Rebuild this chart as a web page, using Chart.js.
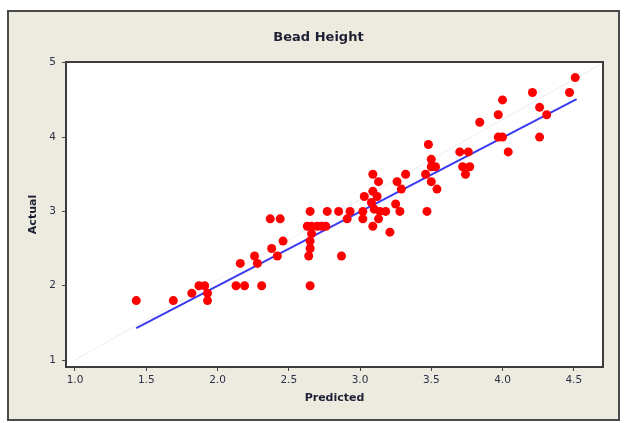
<!DOCTYPE html>
<html>
<head>
<meta charset="utf-8">
<script src="https://cdn.jsdelivr.net/npm/chart.js"></script>
<style>
html,body{margin:0;padding:0;background:#fff;}
#wrap{width:625px;height:423px;}
</style>
</head>
<body>
<div id="wrap"><canvas id="grafico" width="625" height="423"></canvas></div>
<script>
const predicted = [
  1.43, 1.69, 1.82, 1.87, 1.91, 1.93, 1.93, 2.13, 2.19, 2.31, 2.16, 2.26, 2.28, 2.38, 2.42, 2.37, 2.44, 2.46,
  2.65, 2.64, 2.65, 2.65, 2.66, 2.63, 2.66, 2.70, 2.73, 2.76, 2.65, 2.77, 2.85, 2.87, 2.91, 2.93,
  3.02, 3.02, 3.03, 3.09, 3.13, 3.09, 3.12, 3.08, 3.10, 3.14, 3.18, 3.13, 3.09, 3.21, 3.25, 3.28, 3.26, 3.29, 3.32,
  3.47, 3.48, 3.46, 3.50, 3.50, 3.53, 3.50, 3.54, 3.70, 3.76, 3.72, 3.77, 3.74, 3.84, 3.97, 3.97, 4.00, 4.04, 4.00,
  4.21, 4.26, 4.31, 4.26, 4.47, 4.51
];
const actual = [
  1.8, 1.8, 1.9, 2.0, 2.0, 1.9, 1.8, 2.0, 2.0, 2.0, 2.3, 2.4, 2.3, 2.5, 2.4, 2.9, 2.9, 2.6,
  2.0, 2.4, 2.5, 2.6, 2.7, 2.8, 2.8, 2.8, 2.8, 2.8, 3.0, 3.0, 3.0, 2.4, 2.9, 3.0,
  3.0, 2.9, 3.2, 3.5, 3.4, 3.27, 3.2, 3.12, 3.03, 3.0, 3.0, 2.9, 2.8, 2.72, 3.1, 3.0, 3.4, 3.3, 3.5,
  3.0, 3.9, 3.5, 3.7, 3.6, 3.6, 3.4, 3.3, 3.8, 3.8, 3.6, 3.6, 3.5, 4.2, 4.3, 4.0, 4.0, 3.8, 4.5,
  4.6, 4.4, 4.3, 4.0, 4.6, 4.8
];
const fitX = [1.43, 4.52];
const fitY = [1.43, 4.51];
const refX = [1.0, 4.68];
const refY = [1.0, 4.97];
const xTicks = [1.0, 1.5, 2.0, 2.5, 3.0, 3.5, 4.0, 4.5];
const yTicks = [1, 2, 3, 4, 5];

const textColor = "#2c3048";
const fontFam = "'DejaVu Sans', sans-serif";

function pares(xs, ys){ return xs.map((x, i) => ({x: x, y: ys[i]})); }

const fondo = {
  id: "fondo",
  beforeDraw(chart){
    const c = chart.ctx, a = chart.chartArea;
    c.save();
    c.fillStyle = "#fff";
    c.fillRect(0, 0, chart.width, chart.height);
    c.fillStyle = "#edeadf";
    c.fillRect(8, 11, 611, 409);
    c.strokeStyle = "#4a4a4a";
    c.lineWidth = 2;
    c.strokeRect(8, 11, 611, 409);
    c.fillStyle = "#fff";
    c.fillRect(a.left, a.top, a.right - a.left, a.bottom - a.top);
    c.restore();
  },
  beforeDatasetsDraw(chart){
    const c = chart.ctx, a = chart.chartArea;
    c.save();
    c.strokeStyle = "#3c3c3c";
    c.lineWidth = 2;
    c.strokeRect(a.left, a.top, a.right - a.left, a.bottom - a.top);
    c.restore();
  }
};

new Chart(document.getElementById("grafico"), {
  type: "scatter",
  data: {
    datasets: [
      {label: "Actual", data: pares(predicted, actual), backgroundColor: "#ff0000", pointRadius: 4.5, borderWidth: 0, pointHoverRadius: 4.5},
      {label: "Fit", data: pares(fitX, fitY), showLine: true, borderColor: "#3a3af2", borderWidth: 2, pointRadius: 0},
      {label: "Ref", data: pares(refX, refY), showLine: true, borderColor: "#ececf3", borderWidth: 1, pointRadius: 0}
    ]
  },
  options: {
    responsive: false,
    devicePixelRatio: 1,
    animation: false,
    layout: {padding: {left: 12, right: 0, top: 0, bottom: 6}},
    plugins: {
      legend: {display: false},
      tooltip: {enabled: false},
      title: {
        display: true, text: "Bead Height", color: "#1e2133",
        font: {family: fontFam, size: 13, weight: "bold"},
        padding: {top: 30, bottom: 16.4}
      }
    },
    scales: {
      x: {
        type: "linear", position: "bottom", min: 0.937, max: 4.705,
        afterBuildTicks: s => { s.ticks = xTicks.map(v => ({value: v})); },
        afterFit: s => { s.height = 50; },
        ticks: {color: textColor, font: {family: fontFam, size: 10.5}, padding: 3, maxRotation: 0, autoSkip: false,
                callback: v => Number(v).toFixed(1)},
        grid: {drawOnChartArea: false, drawTicks: true, tickLength: 4, color: "#444"},
        border: {display: false},
        title: {display: true, text: "Predicted", color: "#1e2133",
                font: {family: fontFam, size: 11, weight: "bold"}, padding: {top: 0, bottom: 12.4}}
      },
      y: {
        type: "linear", position: "left", min: 0.906, max: 5.01,
        afterBuildTicks: s => { s.ticks = yTicks.map(v => ({value: v})); },
        afterFit: s => { s.width = 54; },
        ticks: {color: textColor, font: {family: fontFam, size: 10.5}, padding: 6, autoSkip: false,
                callback: v => String(v)},
        grid: {drawOnChartArea: false, drawTicks: true, tickLength: 4, color: "#444"},
        border: {display: false},
        title: {display: true, text: "Actual", color: "#1e2133",
                font: {family: fontFam, size: 11, weight: "bold"}, padding: {top: 14.4, bottom: 0}}
      },
      y2: {
        type: "linear", position: "right", display: true,
        afterFit: s => { s.width = 22; },
        ticks: {display: false},
        grid: {display: false},
        border: {display: false}
      }
    }
  },
  plugins: [fondo]
});
</script>
</body>
</html>
